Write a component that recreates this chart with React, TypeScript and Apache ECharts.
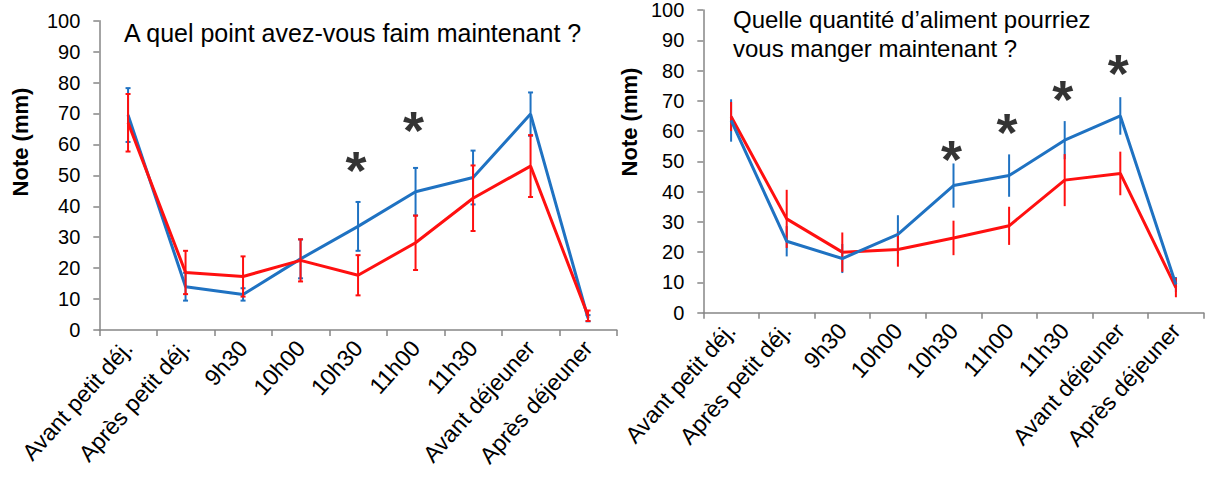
import React, { useEffect, useRef } from "react";
import * as echarts from "echarts";

const categories = [
  "Avant petit déj.",
  "Après petit déj.",
  "9h30",
  "10h00",
  "10h30",
  "11h00",
  "11h30",
  "Avant déjeuner",
  "Après déjeuner",
];

const yTicks = { min: 0, max: 100, interval: 10 };

// Left panel: "A quel point avez-vous faim maintenant ?"
const hungerBlue = [69.5, 14.0, 11.5, 23.0, 33.5, 44.7, 49.3, 69.8, 3.8];
const hungerBlueErr = [8.7, 4.5, 2.0, 6.3, 7.9, 7.7, 8.7, 7.0, 1.0];
const hungerRed = [67.0, 18.6, 17.3, 22.5, 17.7, 28.2, 42.6, 53.0, 4.6];
const hungerRedErr = [9.3, 7.0, 6.5, 6.8, 6.5, 8.8, 10.6, 10.0, 1.7];
const hungerStarCats = ["10h30", "11h00"];
const hungerStarVals = [54.2, 67.3];

// Right panel: "Quelle quantité d'aliment pourriez vous manger maintenant ?"
const quantBlue = [63.5, 23.6, 17.9, 25.9, 42.0, 45.3, 57.0, 65.0, 9.3];
const quantBlueErr = [7.0, 5.0, 4.8, 6.3, 7.3, 7.0, 6.3, 6.2, 2.5];
const quantRed = [64.8, 31.0, 20.0, 20.9, 24.7, 28.7, 43.8, 46.0, 8.3];
const quantRedErr = [4.8, 9.6, 6.5, 5.7, 5.7, 6.3, 8.6, 7.2, 3.2];
const quantStarCats = ["10h30", "11h00", "11h30", "Avant déjeuner"];
const quantStarVals = [53.5, 62.3, 73.3, 81.8];

const titleLeft = "A quel point avez-vous faim maintenant ?";
const titleRight = "Quelle quantité d’aliment pourriez\nvous manger maintenant ?";
const yName = "Note (mm)";

const BLUE = "#1F72C2";
const RED = "#FF1010";
const FONT = "'Liberation Sans', Arial, sans-serif";

function errData(vals: number[], errs: number[]) {
  return vals.map((v, i) => [i, v - errs[i], v + errs[i]]);
}

function errSeries(vals: number[], errs: number[], color: string, idx: number, cap: number) {
  return {
    type: "custom",
    xAxisIndex: idx,
    yAxisIndex: idx,
    data: errData(vals, errs),
    z: 3,
    renderItem: (params: any, api: any) => {
      const xi = api.value(0);
      const lo = api.coord([xi, api.value(1)]);
      const hi = api.coord([xi, api.value(2)]);
      const style = { stroke: color, lineWidth: 2 };
      const children: any[] = [
        { type: "line", shape: { x1: lo[0], y1: lo[1], x2: hi[0], y2: hi[1] }, style },
      ];
      if (cap > 0) {
        children.push(
          { type: "line", shape: { x1: lo[0] - cap / 2, y1: lo[1], x2: lo[0] + cap / 2, y2: lo[1] }, style },
          { type: "line", shape: { x1: hi[0] - cap / 2, y1: hi[1], x2: hi[0] + cap / 2, y2: hi[1] }, style }
        );
      }
      return { type: "group", children };
    },
  };
}

function lineSeries(vals: number[], color: string, idx: number, z: number) {
  return {
    type: "line",
    xAxisIndex: idx,
    yAxisIndex: idx,
    data: vals,
    showSymbol: false,
    symbol: "none",
    lineStyle: { color, width: 3 },
    z,
  };
}

function starSeries(cats: string[], vals: number[], idx: number) {
  return {
    type: "scatter",
    xAxisIndex: idx,
    yAxisIndex: idx,
    data: cats.map((c, i) => [categories.indexOf(c), vals[i]]),
    symbolSize: 1,
    itemStyle: { color: "rgba(0,0,0,0)" },
    label: {
      show: true,
      formatter: "*",
      position: "inside",
      fontSize: 54,
      fontWeight: "bold",
      fontFamily: FONT,
      color: "#000",
      offset: [-2, 8],
    },
    z: 5,
  };
}

function xAxis(idx: number) {
  return {
    type: "category",
    gridIndex: idx,
    data: categories,
    axisLine: { lineStyle: { color: "#868686", width: 1.5 } },
    axisTick: { show: true, length: 6, lineStyle: { color: "#868686", width: 1.5 } },
    axisLabel: {
      interval: 0,
      rotate: 48,
      margin: 14,
      fontSize: 23,
      color: "#000",
      fontFamily: FONT,
    },
  };
}

function yAxis(idx: number) {
  return {
    type: "value",
    gridIndex: idx,
    min: yTicks.min,
    max: yTicks.max,
    interval: yTicks.interval,
    splitLine: { show: false },
    axisLine: { show: true, lineStyle: { color: "#868686", width: 1.5 } },
    axisTick: { show: true, length: 6, lineStyle: { color: "#868686", width: 1.5 } },
    axisLabel: { fontSize: 20, color: "#000", margin: 19, fontFamily: FONT },
  };
}

export default function App() {
  const ref = useRef<HTMLDivElement>(null);
  useEffect(() => {
    if (!ref.current) return;
    const chart = echarts.init(ref.current, null, { renderer: "svg" });
    chart.setOption({
      animation: false,
      backgroundColor: "#fff",
      title: [
        {
          text: titleLeft,
          left: 124,
          top: 20,
          padding: 0,
          textStyle: { fontSize: 25, fontWeight: "normal", color: "#000", fontFamily: FONT },
        },
        {
          text: titleRight,
          left: 733,
          top: 5,
          padding: 0,
          textStyle: { fontSize: 24, fontWeight: "normal", color: "#000", fontFamily: FONT, lineHeight: 29 },
        },
      ],
      grid: [
        { left: 99.3, top: 20.7, width: 517.5, height: 309.3 },
        { left: 703.3, top: 10, width: 500.4, height: 302.7 },
      ],
      xAxis: [xAxis(0), xAxis(1)],
      yAxis: [yAxis(0), yAxis(1)],
      graphic: [
        {
          type: "text",
          x: 20,
          y: 142,
          rotation: Math.PI / 2,
          style: { text: yName, fontSize: 22, fontWeight: "bold", fill: "#000", fontFamily: FONT, align: "center", verticalAlign: "middle" },
        },
        {
          type: "text",
          x: 629,
          y: 122,
          rotation: Math.PI / 2,
          style: { text: yName, fontSize: 22, fontWeight: "bold", fill: "#000", fontFamily: FONT, align: "center", verticalAlign: "middle" },
        },
      ],
      series: [
        lineSeries(hungerBlue, BLUE, 0, 2),
        lineSeries(hungerRed, RED, 0, 3),
        errSeries(hungerBlue, hungerBlueErr, BLUE, 0, 5),
        errSeries(hungerRed, hungerRedErr, RED, 0, 5),
        starSeries(hungerStarCats, hungerStarVals, 0),
        lineSeries(quantRed, RED, 1, 2),
        lineSeries(quantBlue, BLUE, 1, 3),
        errSeries(quantBlue, quantBlueErr, BLUE, 1, 0),
        errSeries(quantRed, quantRedErr, RED, 1, 0),
        starSeries(quantStarCats, quantStarVals, 1),
      ],
    });
    return () => chart.dispose();
  }, []);
  return (
    <div
      ref={ref}
      style={{ position: "fixed", left: 0, top: 0, width: 1205, height: 479, background: "#fff" }}
    />
  );
}
